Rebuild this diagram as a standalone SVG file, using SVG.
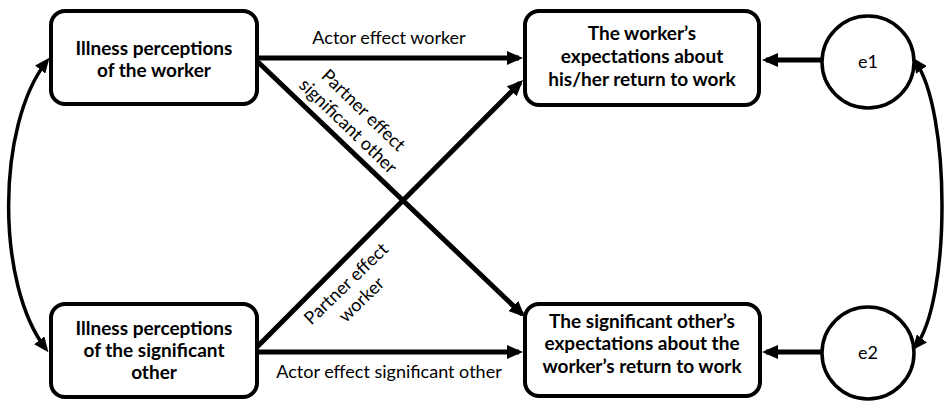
<svg xmlns="http://www.w3.org/2000/svg" width="950" height="402" viewBox="0 0 950 402">
<style>
.box{fill:#fff;stroke:#000;stroke-width:4}
.circ{fill:#fff;stroke:#000;stroke-width:3.5}
.t{font-family:Lato,"Liberation Sans",sans-serif;font-weight:bold;font-size:19px;text-anchor:middle;fill:#000}
.l{font-family:Lato,"Liberation Sans",sans-serif;font-size:18px;text-anchor:middle;fill:#000}
.c{stroke:#000;stroke-width:5;fill:none}
.cv{stroke:#000;stroke-width:3.5;fill:none}
</style>
<defs>
<marker id="ah" markerUnits="userSpaceOnUse" markerWidth="16" markerHeight="14" refX="12" refY="7" orient="auto">
<path d="M0,0 L16,7 L0,14 z" fill="#000"/>
</marker>
<marker id="ahs" markerUnits="userSpaceOnUse" markerWidth="15" markerHeight="13" refX="11" refY="6.5" orient="auto-start-reverse">
<path d="M0,0 L15,6.5 L0,13 z" fill="#000"/>
</marker>
</defs>
<g id="connectors">
<line class="c" x1="257" y1="58" x2="519" y2="58" marker-end="url(#ah)"/>
<line class="c" x1="258" y1="62" x2="522.1" y2="314.2" marker-end="url(#ah)"/>
<line class="c" x1="257" y1="347" x2="520.2" y2="82.8" marker-end="url(#ah)"/>
<line class="c" x1="257" y1="352" x2="519" y2="352" marker-end="url(#ah)"/>
<line class="c" x1="822" y1="60" x2="766" y2="60" marker-end="url(#ah)"/>
<line class="c" x1="822" y1="352" x2="766" y2="352" marker-end="url(#ah)"/>
<path class="cv" d="M47,61 C-4,125 -4,285 46,349" marker-start="url(#ahs)" marker-end="url(#ahs)"/>
<path class="cv" d="M915,61 C951,110 951,302 915,347" marker-start="url(#ahs)" marker-end="url(#ahs)"/>
<text class="l" x="389" y="44">Actor effect worker</text>
<text class="l" x="389" y="378">Actor effect significant other</text>
<g transform="translate(355,119) rotate(44)">
<text class="l" x="0" y="-6">Partner effect</text>
<text class="l" x="0" y="16">significant other</text>
</g>
<g transform="translate(354.5,292.5) rotate(-44)">
<text class="l" x="0" y="-6">Partner effect</text>
<text class="l" x="0" y="16">worker</text>
</g>
</g>
<g id="node-ip-worker">
<rect class="box" x="51" y="11" width="206" height="93" rx="14"/>
<text class="t" x="154" y="55">Illness perceptions</text>
<text class="t" x="154" y="77">of the worker</text>
</g>
<g id="node-ip-so">
<rect class="box" x="51" y="304" width="206" height="93" rx="14"/>
<text class="t" x="154" y="335">Illness perceptions</text>
<text class="t" x="154" y="357">of the significant</text>
<text class="t" x="154" y="379">other</text>
</g>
<g id="node-exp-worker">
<rect class="box" x="525" y="11" width="234" height="94" rx="14"/>
<text class="t" x="642" y="40">The worker’s</text>
<text class="t" x="642" y="63">expectations about</text>
<text class="t" x="642" y="86">his/her return to work</text>
</g>
<g id="node-exp-so">
<rect class="box" x="525" y="304" width="235" height="92" rx="14"/>
<text class="t" x="642" y="328">The significant other’s</text>
<text class="t" x="642" y="350">expectations about the</text>
<text class="t" x="642" y="373">worker’s return to work</text>
</g>
<g id="node-e1">
<circle class="circ" cx="868" cy="62" r="46"/>
<text class="l" x="868" y="68">e1</text>
</g>
<g id="node-e2">
<circle class="circ" cx="868" cy="353" r="46"/>
<text class="l" x="868" y="359">e2</text>
</g>
</svg>
